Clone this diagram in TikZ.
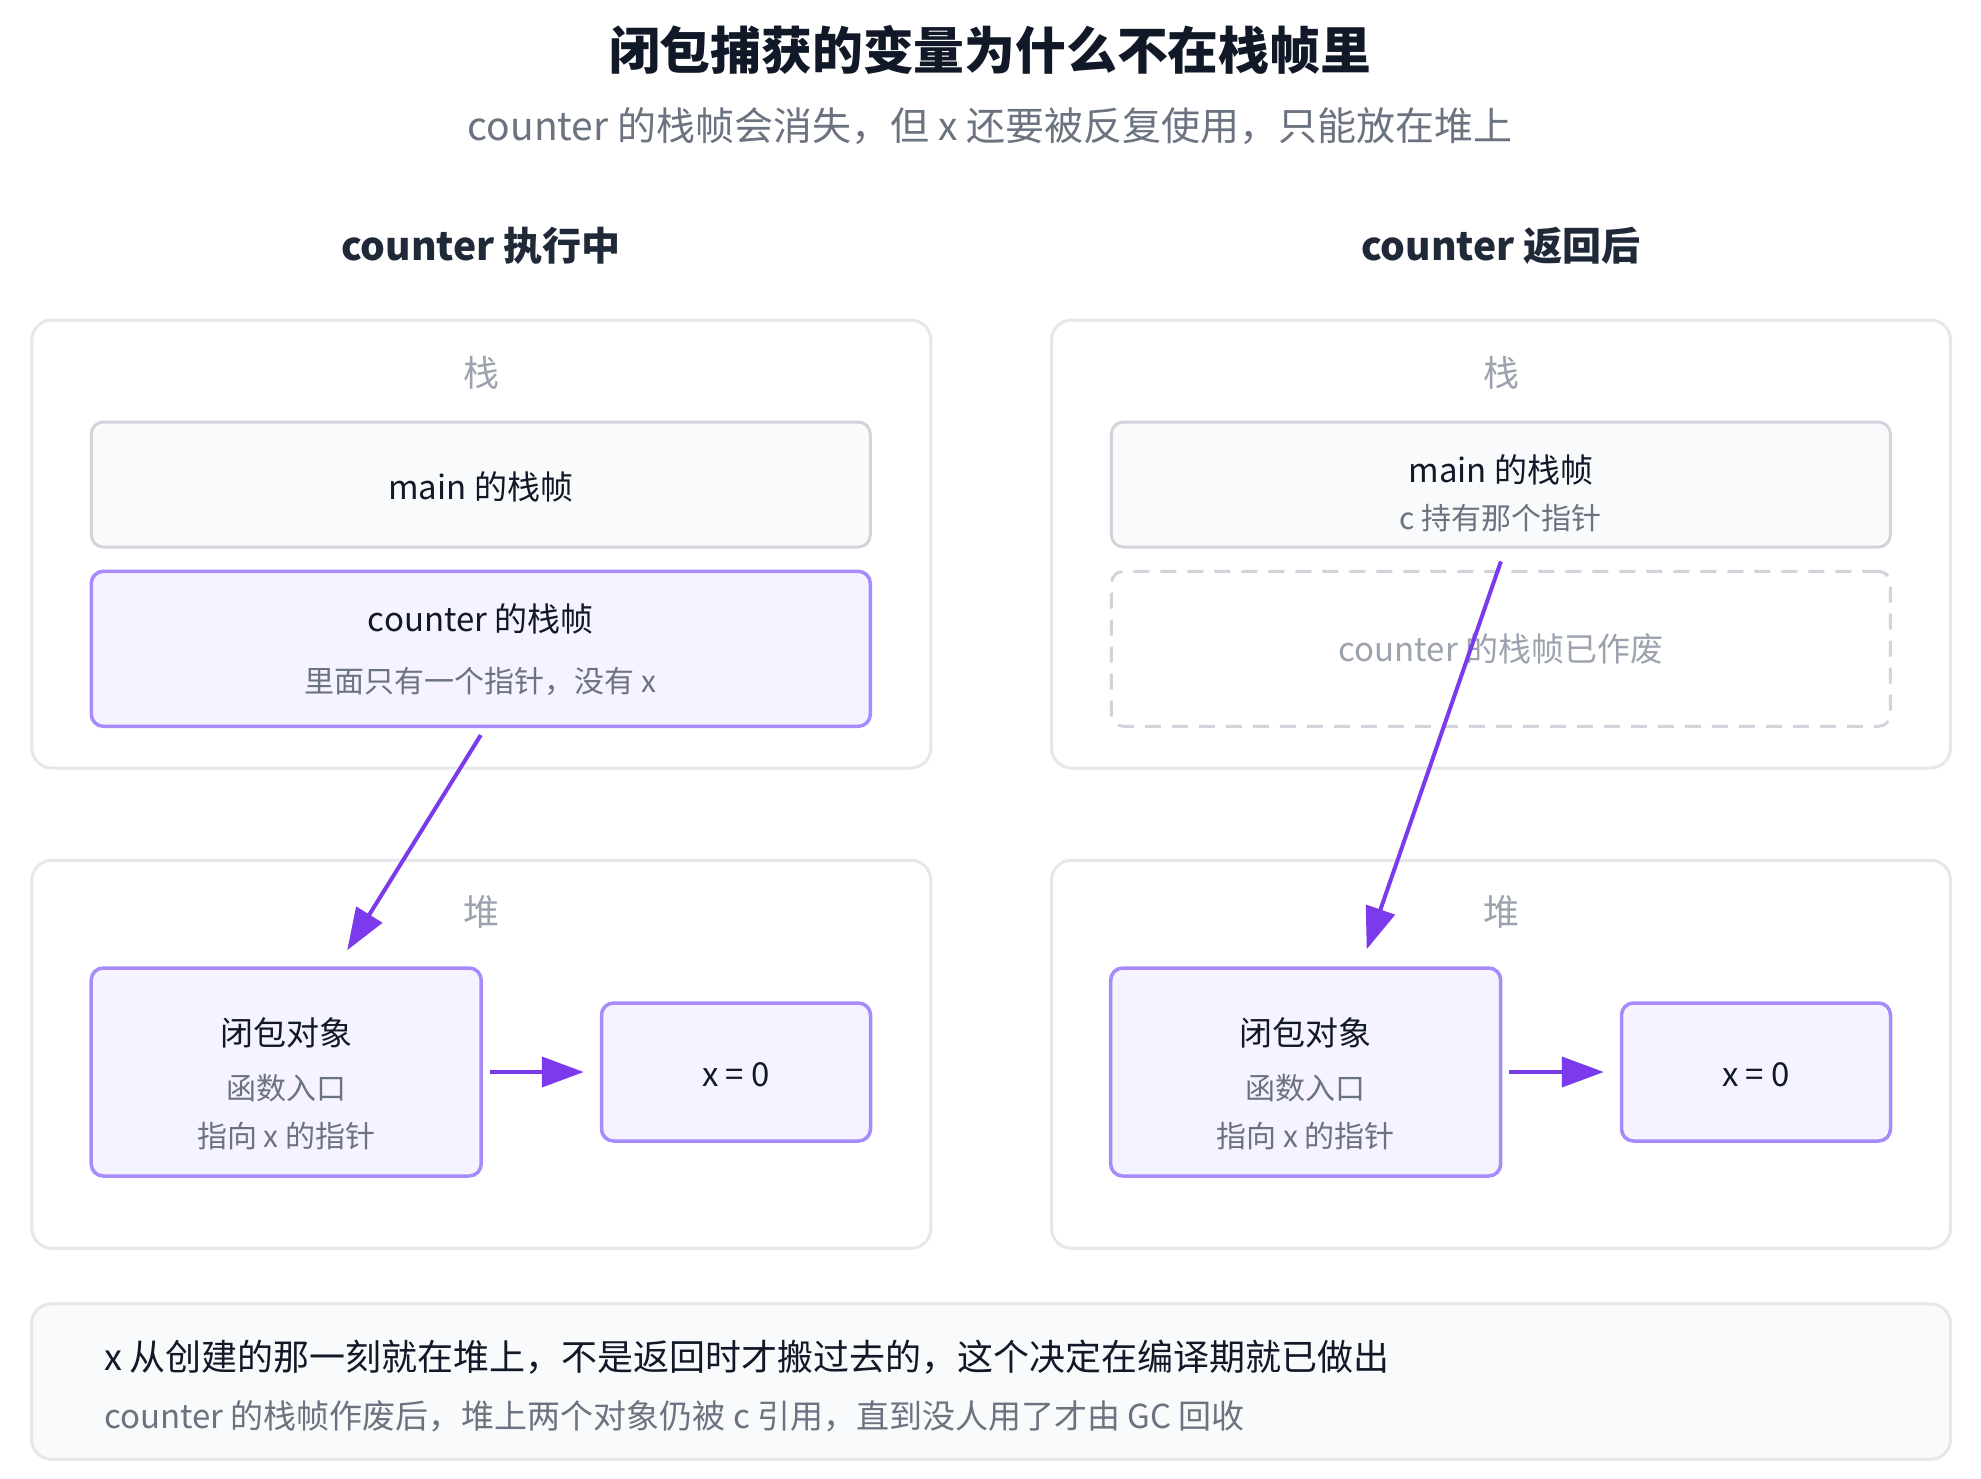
\documentclass[tikz,border=0pt]{standalone}
\usepackage{fontspec}
\setmainfont{Noto Sans CJK SC}
\usetikzlibrary{arrows.meta,calc}
\definecolor{ink}{HTML}{111827}
\definecolor{headInk}{HTML}{1F2937}
\definecolor{mute}{HTML}{6B7280}
\definecolor{faint}{HTML}{9CA3AF}
\definecolor{panelLine}{HTML}{E5E7EB}
\definecolor{grayLine}{HTML}{D1D5DB}
\definecolor{grayFill}{HTML}{F9FAFB}
\definecolor{purpleLine}{HTML}{A78BFA}
\definecolor{purpleFill}{HTML}{F5F3FF}
\definecolor{arrowPurple}{HTML}{7C3AED}

\begin{document}
\begin{tikzpicture}
        [x=0.5pt, y=-0.5pt,
        panel/.style={draw=panelLine, line width=1.5pt, rounded corners=10pt, fill=white, inner sep=0pt, minimum width=449.5pt},
        frameGray/.style={draw=grayLine, line width=1.5pt, rounded corners=6pt, fill=grayFill, inner sep=0pt, minimum width=389.5pt, minimum height=62.5pt},
        boxPurple/.style={draw=purpleLine, line width=1.75pt, rounded corners=6pt, fill=purpleFill, inner sep=0pt},
        boxDead/.style={draw=grayLine, line width=1.5pt, dash pattern=on 8pt off 5.5pt, rounded corners=6pt, inner sep=0pt, minimum width=389.5pt, minimum height=77.5pt},
        txt/.style={inner sep=0pt, text=ink, font=\fontsize{16.5}{20}\selectfont},
        txtSub/.style={inner sep=0pt, text=mute, font=\fontsize{15}{18}\selectfont},
        areaName/.style={inner sep=0pt, text=faint, font=\fontsize{18}{22}\selectfont},
        heading/.style={inner sep=0pt, text=headInk, font=\bfseries\fontsize{19.5}{24}\selectfont},
        ptr/.style={draw=arrowPurple, line width=2pt, -{Triangle[length=21pt, width=15pt]}}]
        \useasboundingbox (0,0) rectangle (1981,1478);

        \node[inner sep=0pt, text=ink, font=\bfseries\fontsize{25.4}{30}\selectfont] (ttl) at (990,50) {闭包捕获的变量为什么不在栈帧里};
        \node[inner sep=0pt, text=mute, font=\fontsize{19.5}{24}\selectfont] (sub) at (990,126) {counter 的栈帧会消失，但 x 还要被反复使用，只能放在堆上};
        \node[heading] (hdL) at (481,246) {counter 执行中};
        \node[heading] (hdR) at (1501,246) {counter 返回后};

        % left: while counter runs
        \node[panel, minimum height=224pt] (stackL) at (481.4,544) {};
        \node[panel, minimum height=194pt] (heapL) at (481.4,1054.3) {};
        \node[areaName] (stkNameL) at (481,373) {栈};
        \node[areaName] (heapNameL) at (481,912) {堆};
        \node[frameGray] (mainL) at (480.8,484.5) {};
        \node[txt] (mainTxtL) at (480.8,487) {main 的栈帧};
        \node[boxPurple, minimum width=389.5pt, minimum height=77.5pt] (cfL) at (480.8,648.8) {};
        \node[txt] (cfTxtL) at (480.8,619) {counter 的栈帧};
        \node[txtSub] (cfSubL) at (480.8,681) {里面只有一个指针，没有 x};
        \node[boxPurple, minimum width=195pt, minimum height=104pt] (cloL) at (286.2,1072) {};
        \node[txt] (cloTxtL) at (286.2,1033) {闭包对象};
        \node[txtSub] (cloSubL) at (286.2,1088) {函数入口};
        \node[txtSub] (cloPtrL) at (286.2,1136) {指向 x 的指针};
        \node[boxPurple, minimum width=134.5pt, minimum height=69pt] (xL) at (736,1072) {};
        \node[txt] (xTxtL) at (736,1075) {x = 0};

        % right: after counter returns
        \node[panel, minimum height=224pt] (stackR) at (1501,544) {};
        \node[panel, minimum height=194pt] (heapR) at (1501,1054.3) {};
        \node[areaName] (stkNameR) at (1501,373) {栈};
        \node[areaName] (heapNameR) at (1501,912) {堆};
        \node[frameGray] (mainR) at (1500.9,484.5) {};
        \node[txt] (mainTxtR) at (1500.9,470) {main 的栈帧};
        \node[txtSub] (mainSubR) at (1500.9,518) {c 持有那个指针};
        \node[boxDead] (cfR) at (1500.9,648.8) {};
        \node[txt, text=faint] (cfTxtR) at (1500.9,649) {counter 的栈帧已作废};
        \node[boxPurple, minimum width=195pt, minimum height=104pt] (cloR) at (1305.7,1072) {};
        \node[txt] (cloTxtR) at (1305.7,1033) {闭包对象};
        \node[txtSub] (cloSubR) at (1305.7,1088) {函数入口};
        \node[txtSub] (cloPtrR) at (1305.7,1136) {指向 x 的指针};
        \node[boxPurple, minimum width=134.5pt, minimum height=69pt] (xR) at (1756,1072) {};
        \node[txt] (xTxtR) at (1756,1075) {x = 0};

        % note
        \node[draw=panelLine, line width=1.5pt, rounded corners=10pt, fill=grayFill, minimum width=959.5pt, minimum height=77.75pt, inner sep=0pt] (note) at (991,1381.5) {};
        \node[inner sep=0pt, anchor=west, text=ink, font=\fontsize{18}{22}\selectfont] (noteA) at (103.6,1357) {x 从创建的那一刻就在堆上，不是返回时才搬过去的，这个决定在编译期就已做出};
        \node[inner sep=0pt, anchor=west, text=mute, font=\fontsize{16.5}{20}\selectfont] (noteB) at (103.6,1416) {counter 的栈帧作废后，堆上两个对象仍被 c 引用，直到没人用了才由 GC 回收};

        \draw[ptr] ([yshift=-3.5pt]cfL.south) -- ($(cloL.north)+(61,-16)$);
        \draw[ptr] ([yshift=-6.5pt]mainR.south) -- ($(cloR.north)+(61,-17)$);
        \draw[ptr, shorten <=3.5pt, shorten >=8pt] (cloL) -- (xL);
        \draw[ptr, shorten <=3.5pt, shorten >=8pt] (cloR) -- (xR);
    \end{tikzpicture}
\end{document}
